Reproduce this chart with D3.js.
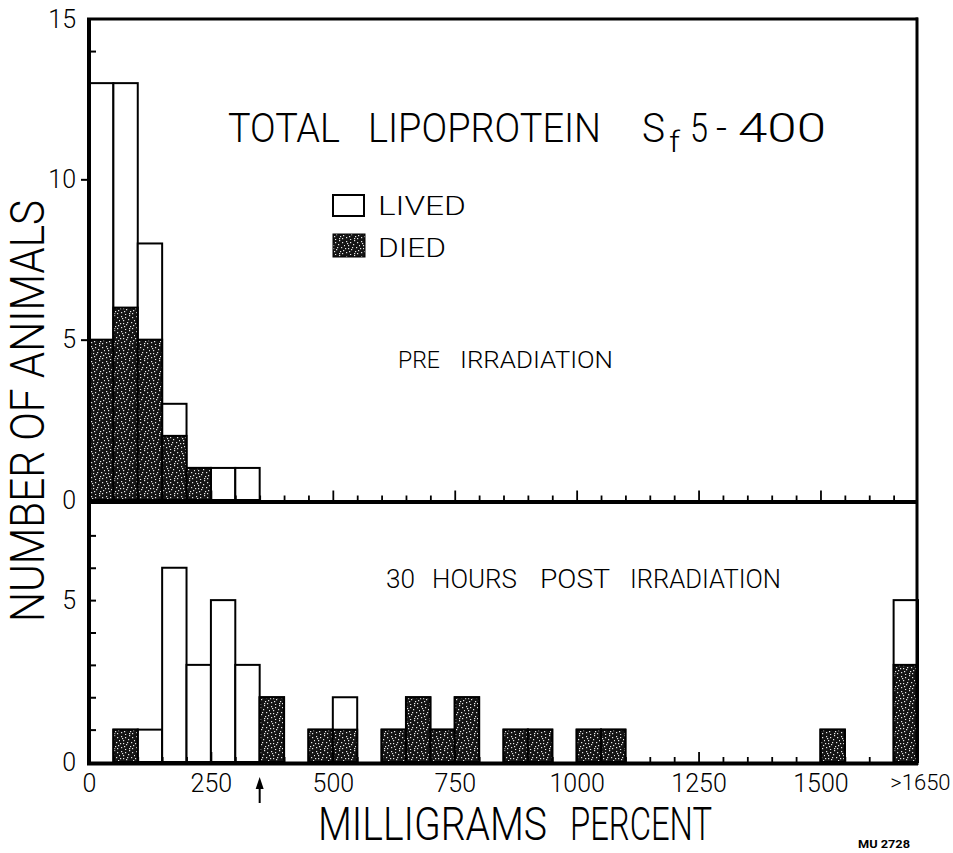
<!DOCTYPE html>
<html>
<head>
<meta charset="utf-8">
<script src="https://cdn.jsdelivr.net/npm/d3@7"></script>
<style>
  html, body { margin: 0; padding: 0; background: #fff; }
  svg { display: block; }
  text { font-family: Roboto, "DejaVu Sans", sans-serif; font-weight: 300; fill: #000; }
</style>
</head>
<body>
<svg id="chart" width="953" height="853"></svg>
<script>
// ---------------- DATA ----------------
const binWidth = 50;                       // mg% per histogram bin
// Pre-irradiation panel
const preBins  = [0, 50, 100, 150, 200, 250, 300];
const preLived = [8, 7, 3, 1, 0, 1, 1];
const preDied  = [5, 6, 5, 2, 1, 0, 0];
// 30 hours post-irradiation panel (last bin = ">1650")
const postBins  = [50, 100, 150, 200, 250, 300, 350, 450, 500, 600, 650, 700, 750, 850, 900, 1000, 1050, 1500, 1650];
const postLived = [0, 1, 6, 3, 5, 3, 0, 0, 1, 0, 0, 0, 0, 0, 0, 0, 0, 0, 2];
const postDied  = [1, 0, 0, 0, 0, 0, 2, 1, 1, 1, 2, 1, 2, 1, 1, 1, 1, 1, 3];
// Axis ticks
const xTickValues = [0, 250, 500, 750, 1000, 1250, 1500, 1704];
const xTickLabels = ["0", "250", "500", "750", "1000", "1250", "1500", ">1650"];
const yTopLabels  = [0, 5, 10, 15];
const yTopMinor   = [14];
const yBotLabels  = [0, 5];
const yBotMinor   = [1, 2, 3, 4, 5, 6, 7];
const arrowValue  = 350;

// ---------------- SCALES ----------------
const svg = d3.select("#chart");
const x    = d3.scaleLinear().domain([0, 1700]).range([89, 918]);
const yTop = d3.scaleLinear().domain([0, 15]).range([500, 19]);
const yBot = d3.scaleLinear().domain([0, 8]).range([762, 503]);

// ---------------- STIPPLE PATTERN ----------------
const specks = [[1,1],[5,2],[9,0],[3,5],[8,4],[11,7],[0,8],[6,9],[4,11],[10,11],[2,3],[7,7],[12,2],[13,10],[1,12],[9,13],[5,14],[14,5],[3,8],[12,13]];
const defs = svg.append("defs");
const pat = defs.append("pattern").attr("id", "stip")
  .attr("patternUnits", "userSpaceOnUse").attr("width", 15).attr("height", 15);
pat.append("rect").attr("width", 15).attr("height", 15).attr("fill", "#141414");
pat.selectAll("rect.s").data(specks).join("rect").attr("class", "s")
  .attr("x", d => d[0]).attr("y", d => d[1]).attr("width", 1.2).attr("height", 1.2).attr("fill", "#e8e8e8");

// ---------------- BARS ----------------
function drawBars(bins, lived, died, y) {
  const g = svg.append("g");
  const rows = bins.map((b, i) => ({ b, lived: lived[i], died: died[i] }));
  g.selectAll("rect.tot").data(rows.filter(d => d.lived + d.died > 0)).join("rect")
    .attr("class", "tot")
    .attr("x", d => x(d.b)).attr("width", d => x(d.b + binWidth) - x(d.b))
    .attr("y", d => y(d.lived + d.died)).attr("height", d => y(0) - y(d.lived + d.died))
    .attr("fill", "#fff").attr("stroke", "#000").attr("stroke-width", 2);
  g.selectAll("rect.died").data(rows.filter(d => d.died > 0)).join("rect")
    .attr("class", "died")
    .attr("x", d => x(d.b)).attr("width", d => x(d.b + binWidth) - x(d.b))
    .attr("y", d => y(d.died)).attr("height", d => y(0) - y(d.died))
    .attr("fill", "url(#stip)").attr("stroke", "#000").attr("stroke-width", 2);
}
drawBars(preBins, preLived, preDied, yTop);
drawBars(postBins, postLived, postDied, yBot);

// ---------------- FRAME ----------------
const frame = svg.append("g").attr("stroke", "#000").attr("fill", "none");
frame.append("line").attr("x1", x(0)).attr("x2", x(0)).attr("y1", yTop(15) - 1).attr("y2", yBot(0) + 3).attr("stroke-width", 4);
frame.append("line").attr("x1", x(0) - 2).attr("x2", x(1700)).attr("y1", yTop(15)).attr("y2", yTop(15)).attr("stroke-width", 3);
frame.append("line").attr("x1", x(1700) - 1).attr("x2", x(1700) - 1).attr("y1", yTop(15) - 1.5).attr("y2", yBot(0) + 3).attr("stroke-width", 3);
frame.append("line").attr("x1", x(0) - 2).attr("x2", x(1700)).attr("y1", yTop(0) + 2).attr("y2", yTop(0) + 2).attr("stroke-width", 4);
frame.append("line").attr("x1", x(0) - 2).attr("x2", x(1700)).attr("y1", yBot(0) + 1.5).attr("y2", yBot(0) + 1.5).attr("stroke-width", 4);

// inward x ticks (every 50, long every 250) on divider and bottom axis
const minorX = d3.range(50, 1700, 50);
function tickOnly(axis, yy) {
  const g = svg.append("g").attr("transform", `translate(0,${yy})`).call(axis);
  g.select(".domain").remove();
  g.selectAll("text").remove();
  g.selectAll("line").attr("stroke-width", 1.8);
}
[yTop(0) + 0.5, yBot(0)].forEach(yy => {
  tickOnly(d3.axisBottom(x).tickValues(minorX.filter(v => v % 250 !== 0)).tickSize(-5).tickSizeOuter(0), yy);
  tickOnly(d3.axisBottom(x).tickValues(minorX.filter(v => v % 250 === 0)).tickSize(-10).tickSizeOuter(0), yy);
});

// ---------------- Y AXES ----------------
function yAxis(y, labels, minor, outward) {
  const ga = svg.append("g").attr("transform", `translate(${x(0)},0)`)
    .call(d3.axisLeft(y).tickValues(labels).tickSize(0).tickPadding(13).tickFormat(d3.format("d")));
  ga.select(".domain").remove();
  ga.selectAll("text").style("font-size", "25px");
  const gt = svg.append("g").attr("transform", `translate(${x(0)},0)`)
    .call(d3.axisLeft(y).tickValues(outward).tickSize(8));
  gt.select(".domain").remove();
  gt.selectAll("text").remove();
  gt.selectAll("line").attr("stroke-width", 2);
  const gi = svg.append("g").attr("transform", `translate(${x(0)},0)`)
    .call(d3.axisRight(y).tickValues(minor).tickSize(7));
  gi.select(".domain").remove();
  gi.selectAll("text").remove();
  gi.selectAll("line").attr("stroke-width", 2);
}
yAxis(yTop, yTopLabels, yTopMinor, [5, 10]);
yAxis(yBot, yBotLabels, yBotMinor, []);

// ---------------- X AXIS LABELS ----------------
const gx = svg.append("g").attr("transform", `translate(0,${yBot(0) + 3})`)
  .call(d3.axisBottom(x).tickValues(xTickValues).tickSize(0).tickPadding(9)
    .tickFormat((d, i) => xTickLabels[i]));
gx.select(".domain").remove();
gx.selectAll("text").style("font-size", "25px");
// the last (">1650") label is set a bit smaller so it stays inside the page
gx.selectAll("text").filter((d, i) => i === xTickLabels.length - 1).style("font-size", "22px");

// arrow at 350
const ax = x(arrowValue);
svg.append("line").attr("x1", ax).attr("x2", ax).attr("y1", 786).attr("y2", 803).attr("stroke", "#000").attr("stroke-width", 2);
svg.append("path").attr("d", `M${ax - 4},789 L${ax},777 L${ax + 4},789 Z`).attr("fill", "#000");

// ---------------- TEXTS ----------------
function word(txt, x0, x1, yb, size) {
  return svg.append("text").attr("x", x0).attr("y", yb).style("font-size", size + "px")
    .attr("textLength", x1 - x0).attr("lengthAdjust", "spacingAndGlyphs").text(txt);
}
// title
word("TOTAL", 228, 340, 142, 40);
word("LIPOPROTEIN", 368, 601, 142, 40);
word("S", 642, 665, 142, 40);
word("f", 669, 680, 152, 30);
word("5", 690, 708, 142, 40);
word("-", 716, 727, 142, 40);
word("400", 738, 826, 142, 40);

// legend
svg.append("rect").attr("x", 333).attr("y", 195).attr("width", 31).attr("height", 21)
  .attr("fill", "#fff").attr("stroke", "#000").attr("stroke-width", 2);
svg.append("rect").attr("x", 333).attr("y", 234).attr("width", 32).attr("height", 23)
  .attr("fill", "url(#stip)").attr("stroke", "#000").attr("stroke-width", 1);
word("LIVED", 378, 466, 215, 26);
word("DIED", 378, 446, 257, 26);

// panel captions
word("PRE", 398, 440, 368, 24);
word("IRRADIATION", 460, 613, 368, 24);
word("30", 386, 415, 588, 26);
word("HOURS", 432, 517, 588, 26);
word("POST", 540, 610, 588, 26);
word("IRRADIATION", 630, 781, 588, 26);

// axis titles
word("MILLIGRAMS", 318, 547, 840, 46);
word("PERCENT", 570, 712, 840, 46);
svg.append("text").attr("transform", "translate(44,411) rotate(-90)")
  .attr("text-anchor", "middle").style("font-size", "48px")
  .attr("textLength", 422).attr("lengthAdjust", "spacingAndGlyphs")
  .text("NUMBER OF ANIMALS");

svg.append("text").attr("x", 858).attr("y", 848).style("font-size", "11px").style("font-weight", "bold")
  .attr("textLength", 52).attr("lengthAdjust", "spacingAndGlyphs").text("MU 2728");
</script>
</body>
</html>
